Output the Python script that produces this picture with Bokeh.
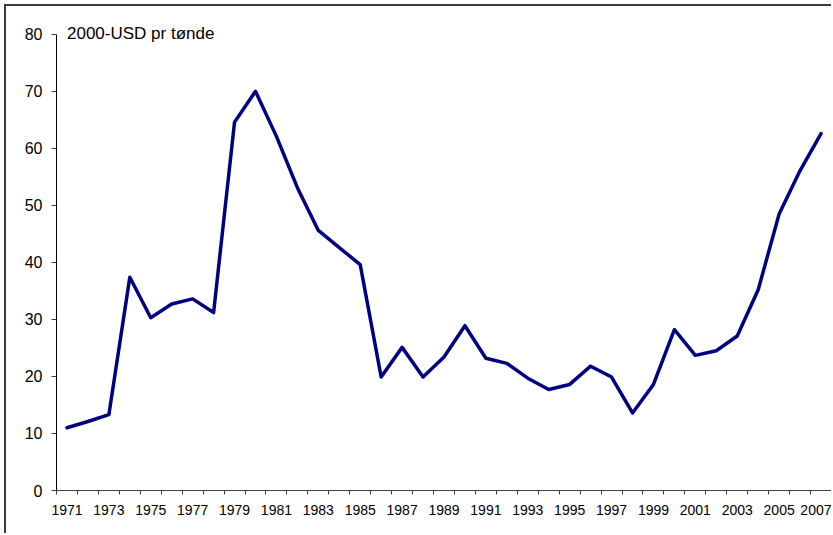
from bokeh.plotting import figure
from bokeh.models import FixedTicker, Label, ColumnDataSource
from bokeh.embed import file_html
from bokeh.resources import INLINE

years = list(range(1971, 2008))
prices = [11.0, 12.1, 13.3, 37.4, 30.3, 32.7, 33.6, 31.2, 64.6, 70.0,
          62.1, 53.1, 45.6, 42.6, 39.6, 19.9, 25.1, 19.9, 23.4, 28.9,
          23.2, 22.3, 19.7, 17.7, 18.6, 21.8, 19.9, 13.6, 18.6, 28.2,
          23.7, 24.5, 27.1, 35.2, 48.5, 56.1, 62.6]
x_label_years = list(range(1971, 2008, 2))
y_ticks = [0, 10, 20, 30, 40, 50, 60, 70, 80]
unit_text = "2000-USD pr tønde"

src = ColumnDataSource(dict(year=years, price=prices))

FONT = "Liberation Sans"
AXIS_COLOR = "#404040"

p = figure(width=827, height=529, output_backend="svg", toolbar_location=None,
           x_range=(years[0] - 0.5, years[-1] + 0.5), y_range=(0, 84),
           min_border_left=50, min_border_right=2, min_border_top=5,
           min_border_bottom=45)
p.styles = {"margin-left": "4px", "margin-top": "4px",
            "border-left": "2px solid #3c3c3c", "border-top": "2px solid #3c3c3c"}

p.line("year", "price", source=src, line_color="#000080", line_width=3.5,
       line_join="round", line_cap="round")

p.xgrid.visible = False
p.ygrid.visible = False
p.outline_line_color = None
p.background_fill_color = "white"
p.border_fill_color = "white"

xa = p.xaxis[0]
xa.ticker = FixedTicker(ticks=x_label_years,
                        minor_ticks=[y - 0.5 for y in years] + [years[-1] + 0.5])
xa.major_tick_out = 0
xa.major_tick_in = 0
xa.minor_tick_out = 4
xa.minor_tick_in = 0
xa.minor_tick_line_color = AXIS_COLOR
xa.axis_line_color = AXIS_COLOR
xa.major_label_text_font = FONT
xa.major_label_text_font_size = "14px"
xa.major_label_text_color = "black"
xa.major_label_standoff = 10

ya = p.yaxis[0]
ya.ticker = FixedTicker(ticks=y_ticks)
ya.bounds = (0, 80)
ya.minor_tick_line_color = None
ya.major_tick_out = 5
ya.major_tick_in = 0
ya.major_tick_line_color = AXIS_COLOR
ya.axis_line_color = "black"
ya.major_label_text_font = FONT
ya.major_label_text_font_size = "16px"
ya.major_label_text_color = "black"
ya.major_label_standoff = 9

lbl = Label(x=1971.0, y=80.2, text=unit_text, text_font=FONT,
            text_font_size="17px", text_color="black", text_baseline="middle",
            text_align="left")
p.add_layout(lbl)

open("out.html", "w").write(file_html(p, INLINE))
